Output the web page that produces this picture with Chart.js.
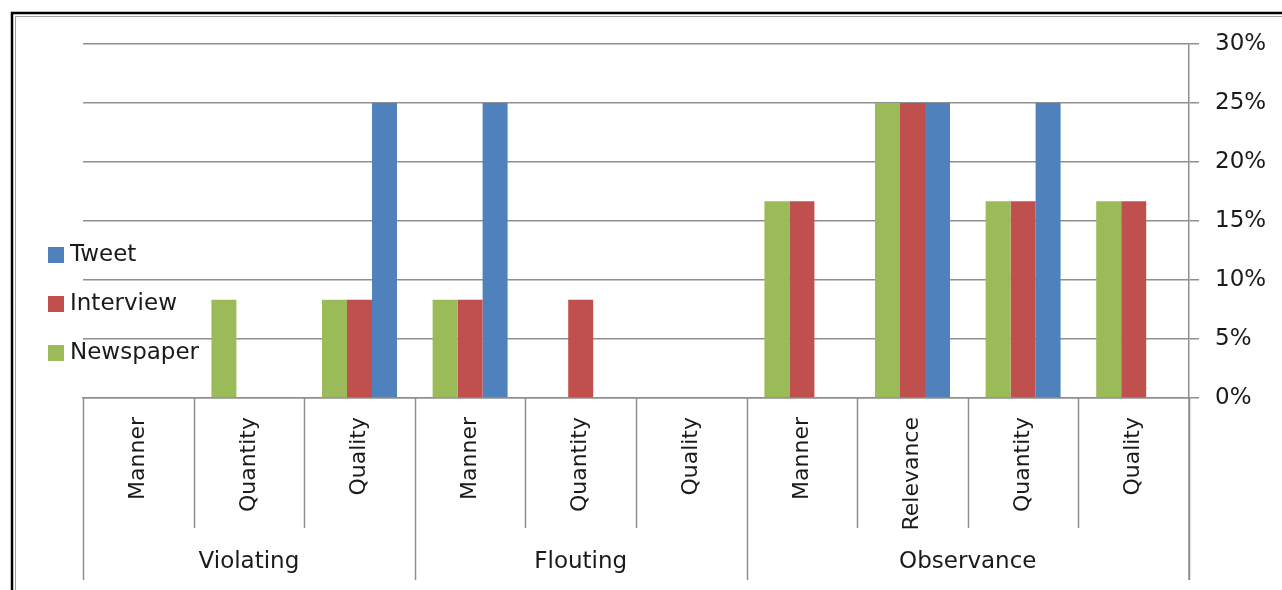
<!DOCTYPE html>
<html><head><meta charset="utf-8">
<script src="https://cdn.jsdelivr.net/npm/chart.js@4.4.0/dist/chart.umd.min.js"></script>
<style>html,body{margin:0;padding:0;background:#fff;}#wrap{width:1282px;height:590px;position:relative;}</style>
</head><body><div id="wrap"><canvas id="c" width="1282" height="590"></canvas></div>
<script>
const categories = ["Manner","Quantity","Quality","Manner","Quantity","Quality","Manner","Relevance","Quantity","Quality"];
const groups = [{label:"Violating", from:0, to:2},{label:"Flouting", from:3, to:5},{label:"Observance", from:6, to:9}];
const newspaper = [0, 8.33, 8.33, 8.33, 0, 0, 16.67, 25, 16.67, 16.67];
const interview = [0, 0, 8.33, 8.33, 8.33, 0, 16.67, 25, 16.67, 16.67];
const tweet     = [0, 0, 25, 25, 0, 0, 0, 25, 25, 0];
const yTicks = [0,5,10,15,20,25,30];

const FONT = "'DejaVu Sans', sans-serif";
const FS = 23;
const gridColor = "#8f8f8f";
const textColor = "#1a1a1a";

const decor = {
  id:'decor',
  afterDraw(chart){
    const ctx = chart.ctx, x = chart.scales.x, area = chart.chartArea;
    ctx.save();
    // frame
    ctx.strokeStyle = "#000"; ctx.lineWidth = 2.5;
    ctx.beginPath(); ctx.moveTo(12, 600); ctx.lineTo(12, 13); ctx.lineTo(1300, 13); ctx.stroke();
    ctx.strokeStyle = "#a0a0a0"; ctx.lineWidth = 1;
    ctx.beginPath(); ctx.moveTo(15.5, 600); ctx.lineTo(15.5, 16.5); ctx.lineTo(1300, 16.5); ctx.stroke();
    // category separators
    const half = (x.getPixelForValue(1) - x.getPixelForValue(0)) / 2;
    ctx.strokeStyle = gridColor; ctx.lineWidth = 1.5;
    const groupEdges = new Set();
    groups.forEach(g => { groupEdges.add(g.from); groupEdges.add(g.to + 1); });
    for (let i = 0; i <= categories.length; i++) {
      const px = Math.round(x.getPixelForValue(i) - half) + 0.5;
      const bottom = groupEdges.has(i) ? 580 : 528;
      ctx.beginPath(); ctx.moveTo(px, area.bottom); ctx.lineTo(px, bottom); ctx.stroke();
    }
    // right axis extension
    ctx.beginPath(); ctx.moveTo(area.right, area.bottom); ctx.lineTo(area.right, 580); ctx.stroke();
    // group labels
    ctx.fillStyle = textColor; ctx.font = FS + "px " + FONT;
    ctx.textAlign = "center"; ctx.textBaseline = "middle";
    groups.forEach(g => {
      const l = x.getPixelForValue(g.from) - half, r = x.getPixelForValue(g.to) + half;
      ctx.fillText(g.label, (l + r) / 2, 562);
    });
    // legend (reverse order: Tweet on top)
    const ds = chart.data.datasets.slice().reverse();
    ctx.textAlign = "left";
    ds.forEach((d, i) => {
      const cy = 255 + i * 49;
      ctx.fillStyle = d.backgroundColor;
      ctx.fillRect(48, cy - 8, 16, 16);
      ctx.fillStyle = textColor;
      ctx.fillText(d.label, 70, cy);
    });
    ctx.restore();
  }
};

new Chart(document.getElementById('c'), {
  type: 'bar',
  data: {
    labels: categories,
    datasets: [
      {label:"Newspaper", data:newspaper, backgroundColor:"#9BBB59"},
      {label:"Interview", data:interview, backgroundColor:"#C0504D"},
      {label:"Tweet", data:tweet, backgroundColor:"#4F81BD"}
    ]
  },
  options: {
    responsive:false, animation:false, devicePixelRatio:1,
    layout:{padding:{left:83, top:44, right:0, bottom:0}},
    datasets:{bar:{barPercentage:1, categoryPercentage:0.678}},
    plugins:{legend:{display:false}, tooltip:{enabled:false}},
    scales:{
      x:{
        grid:{display:false},
        border:{display:true, color:gridColor, width:1.5},
        ticks:{minRotation:90, maxRotation:90, autoSkip:false, padding:11, color:textColor, font:{family:FONT, size:22}},
        afterFit(s){ s.height = 192; }
      },
      y:{
        position:'right', min:0, max:30,
        afterBuildTicks(s){ s.ticks = yTicks.map(v => ({value:v})); },
        grid:{color:gridColor, lineWidth:1.5, tickLength:10, drawTicks:true},
        border:{display:true, color:gridColor, width:1.5},
        ticks:{padding:16, color:textColor, font:{family:FONT, size:FS}, callback:v => v + "%"},
        afterFit(s){ s.width = 93; }
      }
    }
  },
  plugins:[decor]
});
</script></body></html>
